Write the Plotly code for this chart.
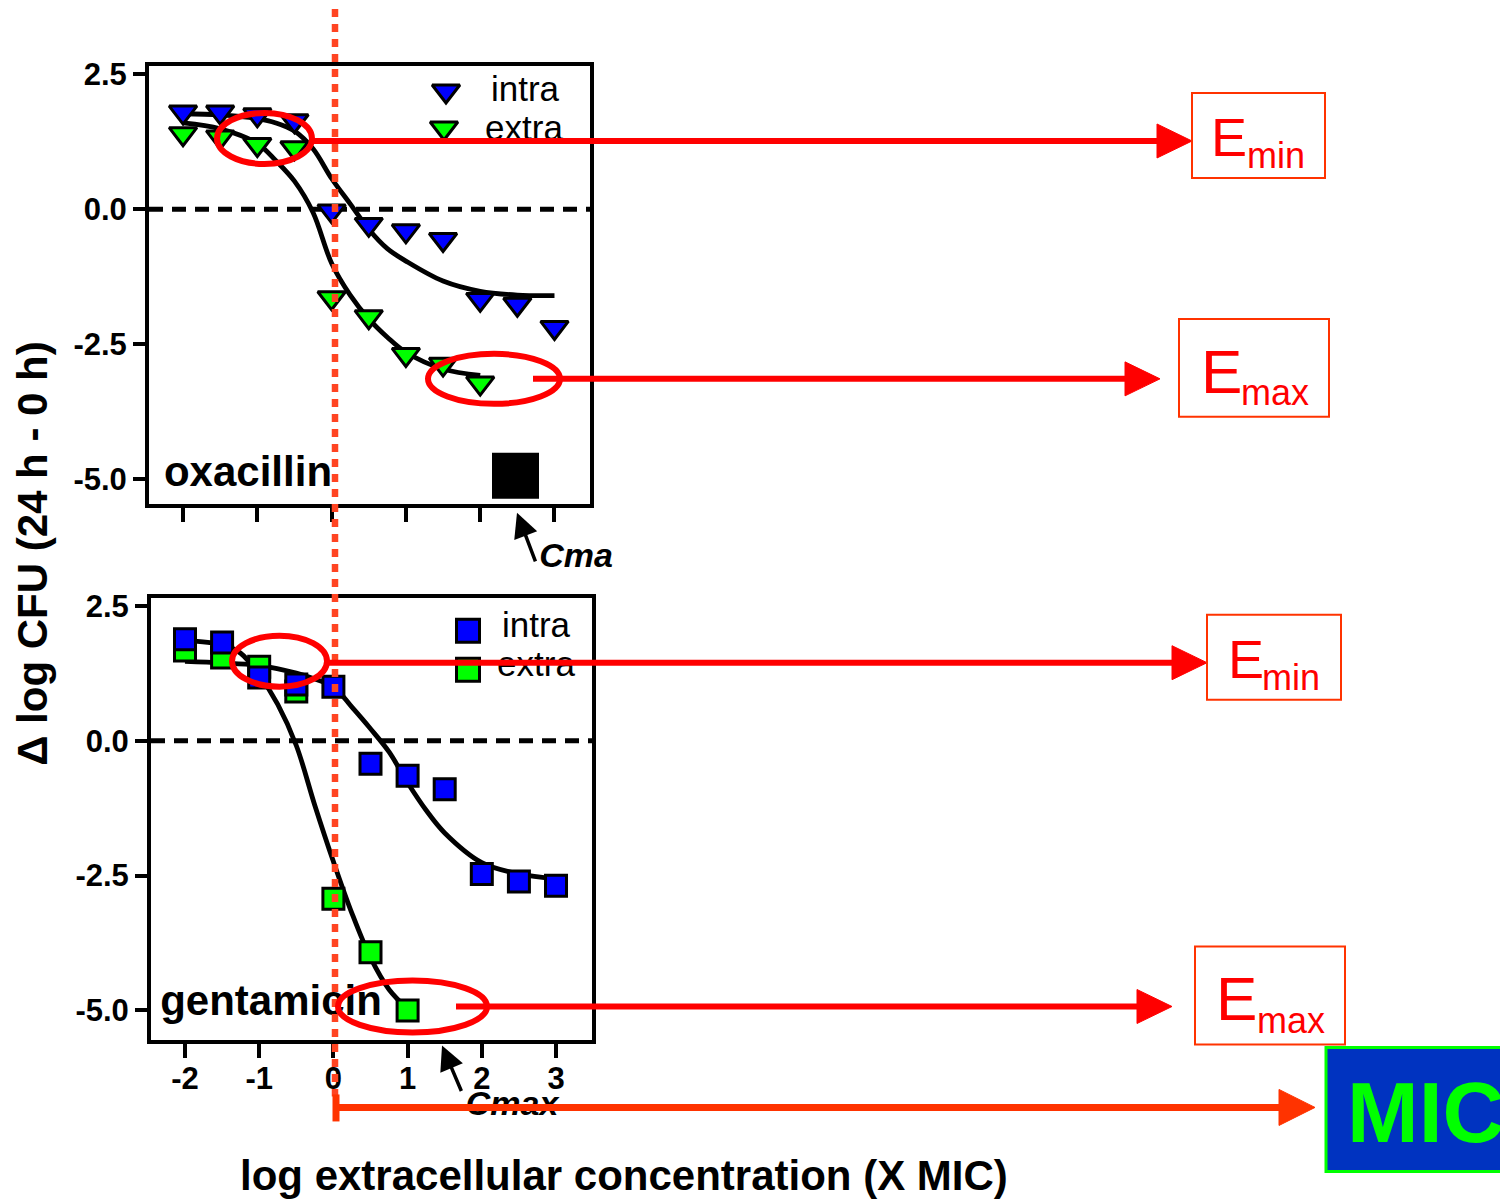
import plotly.graph_objects as go

W, H = 1508, 1200
OFF = 8                      # the page body adds an 8 px margin; compensate
FW, FH = W - OFF, H - OFF
VS = 0.993                   # small vertical correction observed in the photographed page
FONT = "Liberation Sans, Arial, sans-serif"

# ---------------- data ----------------
conc = [-2, -1.5, -1, -0.5, 0, 0.5, 1, 1.5, 2, 2.5, 3]

# oxacillin
oxa_intra = [1.80, 1.80, 1.75, 1.64, -0.03, -0.28, -0.40, -0.56, -1.67, -1.76, -2.19]
oxa_extra_conc = [-2, -1.5, -1, -0.5, 0, 0.5, 1, 1.5, 2]
oxa_extra = [1.40, 1.34, 1.20, 1.14, -1.64, -1.99, -2.69, -2.87, -3.22]
oxa_fit_intra_x = [-2, -1.5, -1, -0.75, -0.5, -0.25, 0, 0.25, 0.5, 0.75, 1, 1.5, 2, 2.5, 3]
oxa_fit_intra_y = [1.77, 1.75, 1.68, 1.60, 1.45, 1.12, 0.57, 0.10, -0.37, -0.73, -0.96, -1.33, -1.52, -1.59, -1.60]
oxa_fit_extra_x = [-2, -1.5, -1, -0.75, -0.5, -0.25, 0, 0.25, 0.5, 0.75, 1, 1.5, 2]
oxa_fit_extra_y = [1.60, 1.49, 1.22, 0.90, 0.52, -0.06, -1.00, -1.59, -2.03, -2.37, -2.65, -2.96, -3.08]

# gentamicin
gen_intra = [1.88, 1.82, 1.17, 1.04, 1.00, -0.43, -0.65, -0.90, -2.47, -2.61, -2.69]
gen_extra_conc = [-2, -1.5, -1, -0.5, 0, 0.5, 1]
gen_extra = [1.67, 1.54, 1.37, 0.91, -2.93, -3.92, -5.00]
gen_fit_intra_x = [-2, -1.5, -1, -0.5, -0.25, 0, 0.25, 0.5, 0.75, 1, 1.25, 1.5, 2, 2.5, 3]
gen_fit_intra_y = [1.47, 1.44, 1.39, 1.25, 1.14, 1.00, 0.62, 0.22, -0.21, -0.78, -1.29, -1.71, -2.26, -2.47, -2.56]
gen_fit_extra_x = [-2, -1.5, -1.25, -1, -0.75, -0.5, -0.25, 0, 0.25, 0.5, 0.75, 1]
gen_fit_extra_y = [1.85, 1.78, 1.62, 1.22, 0.67, -0.09, -1.20, -2.24, -3.20, -4.02, -4.61, -4.97]

x_tick_vals = [-2, -1, 0, 1, 2, 3]
x_tick_text = ["-2", "-1", "0", "1", "2", "3"]
y_tick_vals = [2.5, 0, -2.5, -5]
y_tick_text = ["2.5", "0.0", "-2.5", "-5.0"]

drug_labels = ["oxacillin", "gentamicin"]
legend_labels = ["intra", "extra"]
x_title = "log extracellular concentration (X MIC)"
y_title = "Δ log CFU (24 h - 0 h)"

# ---------------- styling ----------------
BLUE = "#0000ff"
GREEN = "#00ff00"
RED = "#ff0000"
ORANGE = "#ff3300"
DOT = "#ff4422"


def px(x):
    return (x - OFF) / FW


def pagey(y):
    return (y - OFF) / VS


def shoty(page):
    return OFF + VS * page


def py(y):
    return 1 - (pagey(y) - OFF) / FH


fig = go.Figure()


def curve(xs, ys, xa, ya):
    fig.add_trace(go.Scatter(x=xs, y=ys, mode="lines", xaxis=xa, yaxis=ya,
                             line=dict(color="black", width=4.8, shape="spline", smoothing=1.0),
                             hoverinfo="skip", showlegend=False))


def markers(xs, ys, sym, color, xa, ya, size):
    fig.add_trace(go.Scatter(x=xs, y=ys, mode="markers", xaxis=xa, yaxis=ya,
                             marker=dict(symbol=sym, size=size, color=color,
                                         line=dict(color="black", width=3)),
                             showlegend=False))


# oxacillin panel
curve(oxa_fit_intra_x, oxa_fit_intra_y, "x", "y")
curve(oxa_fit_extra_x, oxa_fit_extra_y, "x", "y")
markers(conc, oxa_intra, "triangle-down", BLUE, "x", "y", 24)
markers(oxa_extra_conc, oxa_extra, "triangle-down", GREEN, "x", "y", 24)

# gentamicin panel
curve(gen_fit_intra_x, gen_fit_intra_y, "x2", "y2")
curve(gen_fit_extra_x, gen_fit_extra_y, "x2", "y2")
markers(gen_extra_conc, gen_extra, "square", GREEN, "x2", "y2", 21)
markers(conc, gen_intra, "square", BLUE, "x2", "y2", 21)


# ---------------- overlay (pixel) layer for labels ----------------
def text(t, x, y, size, color="black", bold=False, italic=False):
    fig.add_trace(go.Scatter(x=[x], y=[y], mode="text", text=[t], textposition="middle center",
                             textfont=dict(size=size, color=color, family=FONT,
                                           weight="bold" if bold else "normal",
                                           style="italic" if italic else "normal"),
                             xaxis="x3", yaxis="y3", hoverinfo="skip", showlegend=False,
                             cliponaxis=False))


def legend_marker(x, y, sym, color, size):
    fig.add_trace(go.Scatter(x=[x], y=[y], mode="markers", xaxis="x3", yaxis="y3",
                             marker=dict(symbol=sym, size=size, color=color,
                                         line=dict(color="black", width=3)),
                             hoverinfo="skip", showlegend=False, cliponaxis=False))


legend_marker(446, 90, "triangle-down", BLUE, 24)
legend_marker(444, 127, "triangle-down", GREEN, 24)
text(legend_labels[0], 525, 91, 35)
text(legend_labels[1], 524, 130, 35)

legend_marker(468, 630, "square", BLUE, 23)
legend_marker(468, 669, "square", GREEN, 23)
text(legend_labels[0], 536, 628, 35)
text(legend_labels[1], 536, 667, 35)

text(drug_labels[0], 248, 475, 42, bold=True)
text(drug_labels[1], 271, 1004, 42, bold=True)
text("Cma", 576, 558, 34, bold=True, italic=True)
text("Cmax", 512, 1106, 34, bold=True, italic=True)

# ---------------- shapes ----------------
shapes = []

# zero reference lines
shapes.append(dict(type="line", xref="x domain", yref="y", x0=0, x1=1, y0=0, y1=0,
                   line=dict(color="black", width=5, dash="14px,9px"), layer="below"))
shapes.append(dict(type="line", xref="x2 domain", yref="y2", x0=0, x1=1, y0=0, y1=0,
                   line=dict(color="black", width=5, dash="14px,9px"), layer="below"))

# black square in oxacillin panel
shapes.append(dict(type="rect", xref="paper", yref="paper", x0=px(492), x1=px(539), y0=py(498), y1=py(452),
                   fillcolor="black", line=dict(width=0), layer="above"))

# dotted MIC line
shapes.append(dict(type="line", xref="paper", yref="paper", x0=px(335), x1=px(335), y0=py(8), y1=py(1096),
                   line=dict(color=DOT, width=6.5, dash="8px,7px"), layer="above"))

# ellipses
for (x0, y0, x1, y1) in [(217, 112, 312, 163), (428, 353, 560, 403), (232, 635, 327, 686), (338, 980, 487, 1032)]:
    shapes.append(dict(type="circle", xref="paper", yref="paper", x0=px(x0), x1=px(x1), y0=py(y1), y1=py(y0),
                       line=dict(color=RED, width=6), fillcolor="rgba(0,0,0,0)", layer="above"))


def arrow(x0, x1, y, color, width, head_len=35, head_half=17):
    shapes.append(dict(type="line", xref="paper", yref="paper", x0=px(x0), x1=px(x1 - head_len + 2),
                       y0=py(y), y1=py(y), line=dict(color=color, width=width), layer="above"))
    path = "M {} {} L {} {} L {} {} Z".format(px(x1), py(y), px(x1 - head_len), py(y - head_half),
                                              px(x1 - head_len), py(y + head_half))
    shapes.append(dict(type="path", xref="paper", yref="paper", path=path, fillcolor=color,
                       line=dict(color=color, width=1), layer="above"))


arrow(312, 1192, 140, RED, 6)
arrow(533, 1160, 378, RED, 6)
arrow(326, 1207, 662, RED, 6)
arrow(456, 1172, 1006, RED, 6)
arrow(336, 1315, 1107, ORANGE, 7, head_len=36, head_half=18)
shapes.append(dict(type="line", xref="paper", yref="paper", x0=px(336), x1=px(336), y0=py(1094), y1=py(1121),
                   line=dict(color=ORANGE, width=7), layer="above"))

# E boxes
for (x0, y0, x1, y1) in [(1192, 92, 1325, 177), (1179, 318, 1329, 416), (1207, 614, 1341, 699), (1195, 946, 1345, 1044)]:
    shapes.append(dict(type="rect", xref="paper", yref="paper", x0=px(x0), x1=px(x1), y0=py(y1), y1=py(y0),
                       line=dict(color=ORANGE, width=2), fillcolor="white", layer="above"))
# MIC box
shapes.append(dict(type="rect", xref="paper", yref="paper", x0=px(1326), x1=px(1512), y0=py(1171), y1=py(1047),
                   line=dict(color=GREEN, width=3), fillcolor="#0033c0", layer="above"))

# ---------------- annotations ----------------
ann = []


def label(t, x, y, size, color, bold=False, angle=0):
    ann.append(dict(text=t, x=px(x), y=py(y), xref="paper", yref="paper", showarrow=False,
                    xanchor="center", yanchor="middle", textangle=angle,
                    font=dict(family=FONT, size=size, color=color, weight="bold" if bold else "normal")))


label("E", 1229, 136, 54, RED)
label("min", 1276, 155, 36, RED)
label("E", 1221, 371, 62, RED)
label("max", 1275, 392, 36, RED)
label("E", 1246, 658, 54, RED)
label("min", 1291, 677, 36, RED)
label("E", 1236, 998, 62, RED)
label("max", 1291, 1020, 36, RED)
label("MIC", 1426, 1112, 86, GREEN, bold=True)

label(x_title, 624, 1175, 42, "black", bold=True)
label(y_title, 33, 553, 42, "black", bold=True, angle=-90)

for (tx, ty, tailx, taily) in [(517, 512, 536, 562), (442, 1045, 462, 1092)]:
    ann.append(dict(text="", x=px(tx), y=py(ty), xref="paper", yref="paper", showarrow=True,
                    ax=tailx - tx, ay=taily - ty, arrowhead=2, arrowsize=1.4, arrowwidth=3.5,
                    arrowcolor="black", standoff=0))

# ---------------- axes ----------------
tickfont = dict(family=FONT, size=31, color="black", weight="bold")
common_x = dict(tickvals=x_tick_vals, ticktext=x_tick_text, ticks="outside", ticklen=14, tickwidth=4,
                tickcolor="black", showline=True, linewidth=4, linecolor="black", mirror=True,
                showgrid=False, zeroline=False, tickfont=tickfont, fixedrange=True)
common_y = dict(tickvals=y_tick_vals, ticktext=y_tick_text, ticks="outside", ticklen=12, tickwidth=4,
                tickcolor="black", showline=True, linewidth=4, linecolor="black", mirror=True,
                showgrid=False, zeroline=False, tickfont=tickfont, fixedrange=True)

fig.update_layout(
    width=FW, height=FH, autosize=False,
    margin=dict(l=0, r=0, t=0, b=0),
    paper_bgcolor="white", plot_bgcolor="rgba(0,0,0,0)",
    showlegend=False,
    xaxis=dict(domain=[px(149), px(590)], range=[-2.458, 3.478], anchor="y", showticklabels=False, **common_x),
    yaxis=dict(domain=[py(503), py(65)], range=[-5.457, 2.654], anchor="x", **common_y),
    xaxis2=dict(domain=[px(151), px(592)], range=[-2.458, 3.485], anchor="y2", showticklabels=True,
                ticklabelstandoff=-7, **common_x),
    yaxis2=dict(domain=[py(1040), py(597)], range=[-5.556, 2.648], anchor="x2", **common_y),
    xaxis3=dict(domain=[0, 1], range=[OFF, W], anchor="y3", visible=False, fixedrange=True),
    yaxis3=dict(domain=[0, 1], range=[shoty(H), shoty(OFF)], anchor="x3", visible=False, fixedrange=True),
    shapes=shapes,
    annotations=ann,
)

fig.write_html("out.html")
